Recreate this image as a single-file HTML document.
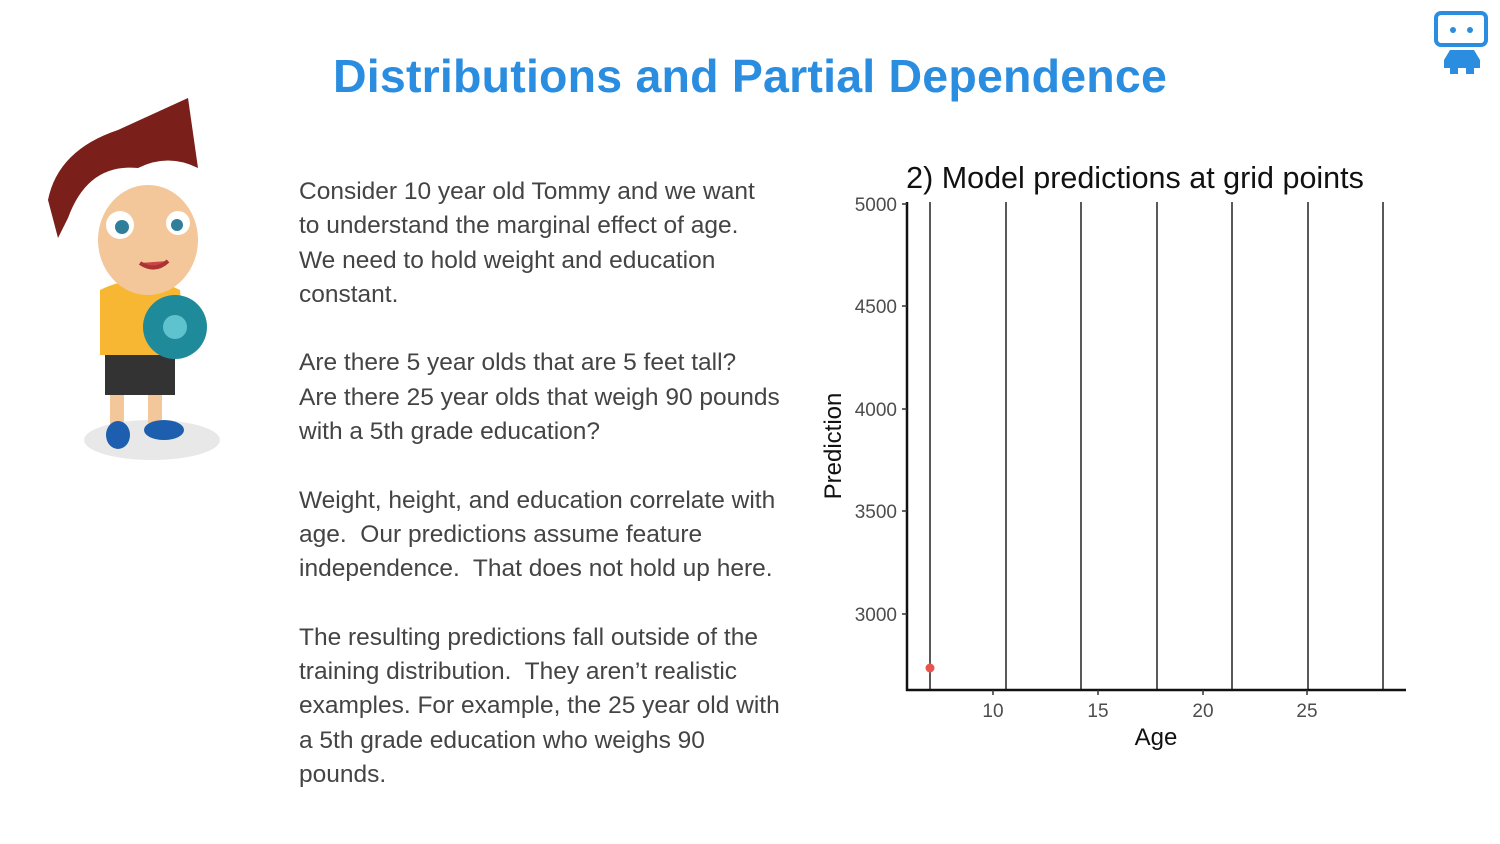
<!DOCTYPE html>
<html><head><style>
body{margin:0;width:1500px;height:844px;background:#fff;position:relative;overflow:hidden;font-family:"Liberation Sans",sans-serif}
h1{position:absolute;left:0;width:1500px;top:49px;margin:0;text-align:center;color:#2a8de0;font-size:46.5px;font-weight:bold;letter-spacing:0.2px}
.t{position:absolute;left:299px;top:175px;white-space:nowrap;font-size:24.5px;line-height:34.3px;color:#444}
</style></head><body>
<h1>Distributions and Partial Dependence</h1>
<svg style="position:absolute;left:1432px;top:10px" width="60" height="66">
<rect x="4" y="3" width="50" height="32" rx="5" fill="#fff" stroke="#2a8de0" stroke-width="4"/>
<circle cx="21" cy="20" r="3" fill="#2a8de0"/><circle cx="38" cy="20" r="3" fill="#2a8de0"/>
<path d="M18 40 h24 l6 10 v8 h-6 v6 h-8 v-6 h-8 v6 h-8 v-6 h-6 v-8z" fill="#2a8de0"/>
</svg>
<svg style="position:absolute;left:40px;top:95px" width="190" height="370">
<ellipse cx="112" cy="345" rx="68" ry="20" fill="#e8e8e8"/>
<rect x="65" y="255" width="70" height="45" fill="#333"/>
<rect x="70" y="300" width="14" height="35" fill="#f3c79a"/><rect x="108" y="300" width="14" height="35" fill="#f3c79a"/>
<ellipse cx="78" cy="340" rx="12" ry="14" fill="#1d5fae"/><ellipse cx="124" cy="335" rx="20" ry="10" fill="#1d5fae"/>
<path d="M60 195 q40 -20 80 0 l5 65 h-85z" fill="#f7b733"/>
<circle cx="135" cy="232" r="32" fill="#1f8a9a"/><circle cx="135" cy="232" r="12" fill="#5fc3cf"/>
<ellipse cx="108" cy="145" rx="50" ry="55" fill="#f3c79a"/>
<path d="M8 105 q10 -50 70 -70 l70 -32 l10 70 q-30 -15 -60 0 q-50 -5 -70 50 l-10 20z" fill="#7a1f1a"/>
<circle cx="80" cy="130" r="14" fill="#fff"/><circle cx="138" cy="128" r="12" fill="#fff"/>
<circle cx="82" cy="132" r="7" fill="#2f7f9a"/><circle cx="137" cy="130" r="6" fill="#2f7f9a"/>
<path d="M100 168 q15 10 28 -2" stroke="#a33" stroke-width="4" fill="#c44"/>
</svg>
<div class="t">Consider 10 year old Tommy and we want<br>to understand the marginal effect of age.<br>We need to hold weight and education<br>constant.<br><br>Are there 5 year olds that are 5 feet tall?<br>Are there 25 year olds that weigh 90 pounds<br>with a 5th grade education?<br><br>Weight, height, and education correlate with<br>age.&nbsp; Our predictions assume feature<br>independence.&nbsp; That does not hold up here.<br><br>The resulting predictions fall outside of the<br>training distribution.&nbsp; They aren’t realistic<br>examples. For example, the 25 year old with<br>a 5th grade education who weighs 90<br>pounds.</div>
<svg style="position:absolute;left:0;top:0" width="1500" height="844" font-family="Liberation Sans,sans-serif">
<text x="1135" y="188" font-size="30.5" text-anchor="middle" fill="#111">2) Model predictions at grid points</text>
<g stroke="#222" stroke-width="1.5">
<line x1="930" y1="202" x2="930" y2="690"/><line x1="1006" y1="202" x2="1006" y2="690"/><line x1="1081" y1="202" x2="1081" y2="690"/><line x1="1157" y1="202" x2="1157" y2="690"/><line x1="1232" y1="202" x2="1232" y2="690"/><line x1="1308" y1="202" x2="1308" y2="690"/><line x1="1383" y1="202" x2="1383" y2="690"/>
</g>
<g stroke="#111" stroke-width="2.5"><line x1="907" y1="202" x2="907" y2="691"/><line x1="906" y1="690" x2="1406" y2="690"/></g>
<g stroke="#333" stroke-width="1.5"><line x1="902" y1="204" x2="907" y2="204"/><line x1="902" y1="306" x2="907" y2="306"/><line x1="902" y1="409" x2="907" y2="409"/><line x1="902" y1="511" x2="907" y2="511"/><line x1="902" y1="614" x2="907" y2="614"/>
<line x1="993" y1="690" x2="993" y2="695"/><line x1="1098" y1="690" x2="1098" y2="695"/><line x1="1203" y1="690" x2="1203" y2="695"/><line x1="1307" y1="690" x2="1307" y2="695"/></g>
<g font-size="19" fill="#4d4d4d" text-anchor="end"><text x="897" y="211">5000</text><text x="897" y="313">4500</text><text x="897" y="416">4000</text><text x="897" y="518">3500</text><text x="897" y="621">3000</text></g>
<g font-size="19" fill="#4d4d4d" text-anchor="middle"><text x="993" y="717">10</text><text x="1098" y="717">15</text><text x="1203" y="717">20</text><text x="1307" y="717">25</text></g>
<text x="1156" y="745" font-size="24" text-anchor="middle" fill="#111">Age</text>
<text transform="translate(841,446) rotate(-90)" font-size="24" text-anchor="middle" fill="#111">Prediction</text>
<circle cx="930" cy="668" r="4.5" fill="#e8554e"/>
</svg>
</body></html>
